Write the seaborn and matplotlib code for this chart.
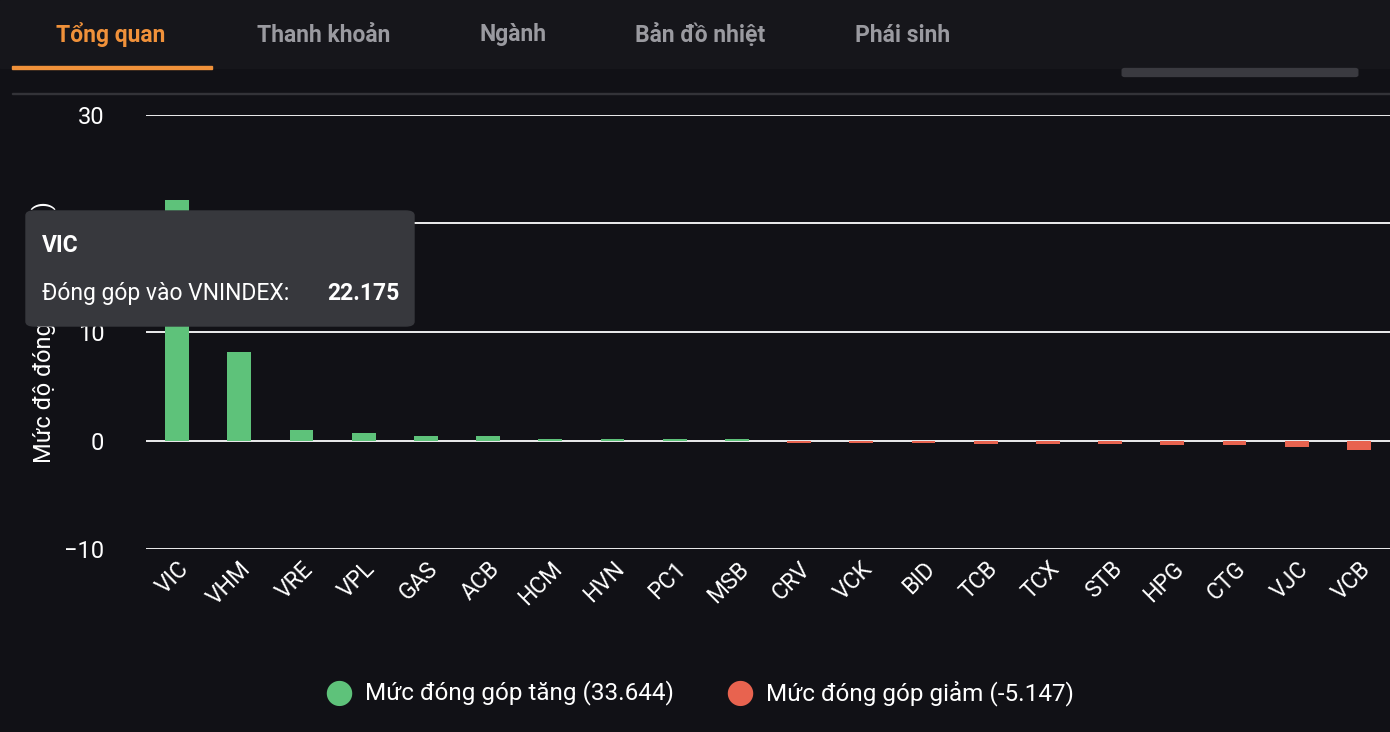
import matplotlib
matplotlib.use("Agg")
import matplotlib.pyplot as plt
import seaborn as sns
import pandas as pd
from matplotlib.patches import FancyBboxPatch

tickers = ["VIC","VHM","VRE","VPL","GAS","ACB","HCM","HVN","PC1","MSB",
           "CRV","VCK","BID","TCB","TCX","STB","HPG","CTG","VJC","VCB"]
values = [22.175, 8.2, 1.0, 0.65, 0.45, 0.45, 0.1, 0.1, 0.1, 0.1,
          -0.2, -0.2, -0.2, -0.35, -0.35, -0.35, -0.45, -0.45, -0.6, -0.85]
tabs = ["Tổng quan", "Thanh khoản", "Ngành", "Bản đồ nhiệt", "Phái sinh"]
legend_labels = ["Mức đóng góp tăng (33.644)", "Mức đóng góp giảm (-5.147)"]

sns.set_theme(style="dark")
plt.rcParams['font.family'] = ['Roboto', 'DejaVu Sans']
BG = "#111116"
GREEN = "#5ec27a"
RED = "#e8634f"

df = pd.DataFrame({"ticker": tickers, "value": values})
df["sign"] = ["up" if v >= 0 else "down" for v in values]

W, H = 1390, 732
fig = plt.figure(figsize=(W/100, H/100), dpi=100, facecolor=BG)
fig.patches.append(plt.Rectangle((0, 1-68/H), 1, 68/H, transform=fig.transFigure, color="#16161b", zorder=0))
tab_x = [111, 324, 513, 700, 903]
for i, (t, x) in enumerate(zip(tabs, tab_x)):
    fig.text(x/W, 1-35/H, t, ha="center", va="center", fontsize=16.5, fontweight="bold",
             color="#f0913a" if i == 0 else "#9a9aa0")
fig.patches.append(plt.Rectangle((12/W, 1-69/H), 200/W, 3/H, transform=fig.transFigure, color="#f0913a"))
fig.patches.append(plt.Rectangle((12/W, 1-94/H), 1378/W, 1/H, transform=fig.transFigure, color="#333338"))
fig.patches.append(FancyBboxPatch((1125/W, 1-75/H), 230/W, 5/H, boxstyle="round,pad=0.002",
                                  transform=fig.transFigure, color="#3a3a40"))

ax = fig.add_axes([146/W, 1-549/H, (1390-146)/W, (549-115)/H])
ax.set_facecolor(BG)
sns.barplot(data=df, x="ticker", y="value", hue="sign", palette={"up": GREEN, "down": RED},
            width=0.38, dodge=False, legend=False, ax=ax, saturation=1, linewidth=0)
ax.set_ylim(-10, 30)
ax.set_yticks([-10, 0, 10, 20, 30])
ax.set_xlim(-0.5, len(tickers)-0.5)
ax.grid(axis="y", color="white", linewidth=1.3)
ax.grid(axis="x", visible=False)
ax.set_axisbelow(True)
for s in ax.spines.values():
    s.set_visible(False)
ax.tick_params(axis="y", colors="white", labelsize=17, pad=30, length=0)
ax.tick_params(axis="x", colors="white", labelsize=16.5, length=0, pad=6)
plt.setp(ax.get_xticklabels(), rotation=45, ha="right", rotation_mode="anchor")
ax.set_xlabel("")
ax.set_ylabel("Mức độ đóng góp (điểm)", color="white", fontsize=17, labelpad=6)

fig.text(339/W, 1-693/H, "●", color=GREEN, fontsize=24, ha="center", va="center")
fig.text(365/W, 1-693/H, legend_labels[0], color="white", fontsize=17.5, va="center")
fig.text(740/W, 1-693/H, "●", color=RED, fontsize=24, ha="center", va="center")
fig.text(766/W, 1-693/H, legend_labels[1], color="white", fontsize=17.5, va="center")

fig.patches.append(FancyBboxPatch((26/W, 1-326/H), 388/W, 115/H, boxstyle="round,pad=0,rounding_size=0.006",
                                  transform=fig.transFigure, color="#37383d", zorder=10))
fig.text(42/W, 1-245/H, "VIC", color="white", fontsize=16.5, fontweight="bold", va="center", zorder=11)
fig.text(42/W, 1-293/H, "Đóng góp vào VNINDEX:", color="white", fontsize=16.5, va="center", zorder=11)
fig.text(399/W, 1-293/H, "22.175", color="white", fontsize=16.5, fontweight="bold", va="center", ha="right", zorder=11)

fig.savefig("out.png", dpi=100, facecolor=BG)
